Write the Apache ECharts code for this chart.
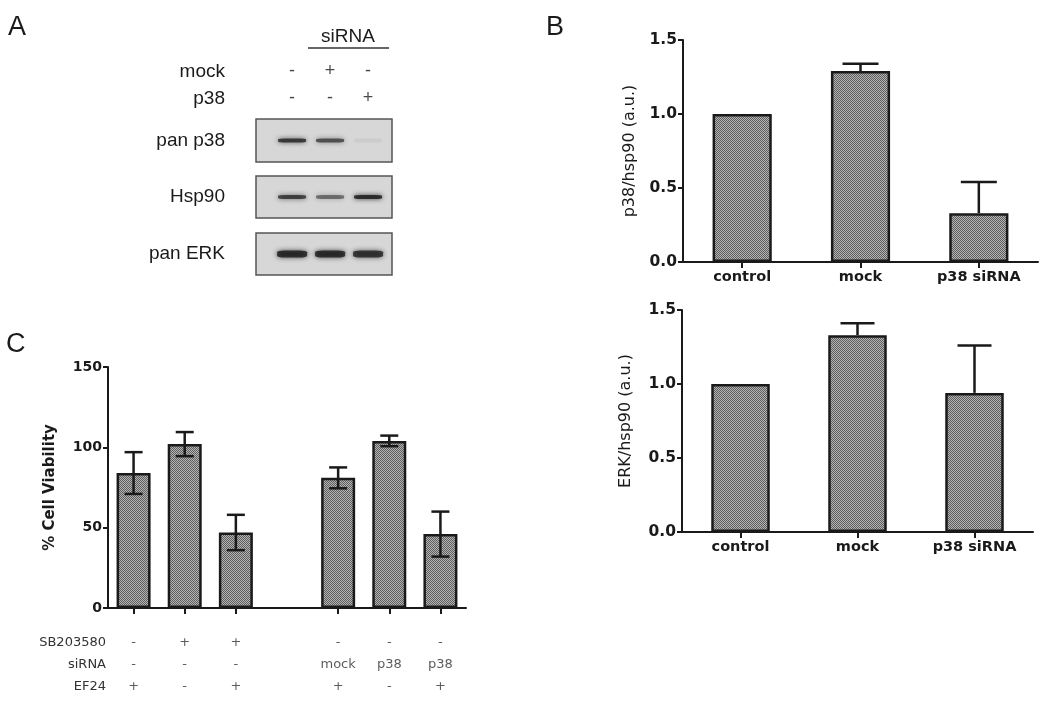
<!DOCTYPE html>
<html>
<head>
<meta charset="utf-8">
<script src="https://cdn.jsdelivr.net/npm/echarts@6/dist/echarts.min.js"></script>
<style>
  html, body { margin: 0; padding: 0; background: #fff; }
  #main { width: 1050px; height: 711px; }
</style>
</head>
<body>
<div id="main"></div>
<script>
// ---- panel A: blot ----
var lanes = [0, 1, 2];
var mockSigns = ['-', '+', '-'];
var p38Signs = ['-', '-', '+'];
var headerRows = ['mock', 'p38'];
var blotNames = ['pan p38', 'Hsp90', 'pan ERK'];
var panP38Band = [0.9, 0.75, 0.07];
var hsp90Band = [0.85, 0.6, 1.0];
var panErkBand = [0.95, 0.95, 0.9];

// ---- panel B ----
var bCats = ['control', 'mock', 'p38 siRNA'];
var p38Mean = [1.0, 1.29, 0.33];
var p38Err = [0, 0.05, 0.21];
var erkMean = [1.0, 1.33, 0.94];
var erkErr = [0, 0.08, 0.32];

// ---- panel C ----
var cCats = ['1', '2', '3', 'gap', '4', '5', '6'];
var viability = [84, 102, 47, null, 81, 104, 46];
var viabilityErr = [13, 7.5, 11, null, 6.5, 3.3, 14];
var tableRows = ['SB203580', 'siRNA', 'EF24'];
var sbRow = ['-', '+', '+', '', '-', '-', '-'];
var sirnaRow = ['-', '-', '-', '', 'mock', 'p38', 'p38'];
var ef24Row = ['+', '-', '+', '', '+', '-', '+'];

var myChart = echarts.init(document.getElementById('main'));

var ARIAL = 'Liberation Sans, Arial, sans-serif';
var DEJA = 'DejaVu Sans, sans-serif';
var INK = '#1a1a1a';

// dithered grey fill like the original hatching
var pat = document.createElement('canvas');
pat.width = 2; pat.height = 2;
var ctx = pat.getContext('2d');
ctx.fillStyle = '#b4b4b4'; ctx.fillRect(0, 0, 2, 2);
ctx.fillStyle = '#5e5e5e'; ctx.fillRect(0, 0, 1, 1); ctx.fillRect(1, 1, 1, 1);
var barFill = { image: pat, repeat: 'repeat' };

function errorBar(both, capW) {
  return function (params, api) {
    var x = api.value(0), m = api.value(1), s = api.value(2);
    if (!s) return null;
    var top = api.coord([x, m + s]);
    var bot = api.coord([x, both ? m - s : m]);
    var st = { stroke: INK, lineWidth: 2.5 };
    var kids = [
      { type: 'line', shape: { x1: top[0], y1: top[1], x2: bot[0], y2: bot[1] }, style: st },
      { type: 'line', shape: { x1: top[0] - capW / 2, y1: top[1], x2: top[0] + capW / 2, y2: top[1] }, style: st }
    ];
    if (both) {
      kids.push({ type: 'line', shape: { x1: bot[0] - capW / 2, y1: bot[1], x2: bot[0] + capW / 2, y2: bot[1] }, style: st });
    }
    return { type: 'group', children: kids };
  };
}

function bandSeries(gridIdx, name, vals, size) {
  return {
    type: 'scatter', xAxisIndex: gridIdx, yAxisIndex: gridIdx,
    symbol: 'roundRect', symbolSize: size, silent: true,
    data: lanes.map(function (l, i) {
      var c = 'rgba(20,20,20,' + vals[i] + ')';
      return { value: [l, name], itemStyle: { color: c, shadowBlur: 5, shadowColor: c } };
    })
  };
}

function blotYAxis(gridIdx, cats, inverse) {
  return {
    type: 'category', gridIndex: gridIdx, data: cats, inverse: !!inverse,
    axisLine: { show: false }, axisTick: { show: false }, splitLine: { show: false },
    axisLabel: { fontFamily: ARIAL, fontSize: 19, color: INK, margin: 31 }
  };
}
function blotXAxis(gridIdx) {
  return { type: 'value', gridIndex: gridIdx, min: -0.95, max: 2.63, show: false };
}

function valueY(gridIdx, max, interval, name, nameSize, nameBold, nameGap, labelSize, digits) {
  return {
    type: 'value', gridIndex: gridIdx, min: 0, max: max, interval: interval,
    name: name, nameLocation: 'middle', nameGap: nameGap,
    nameTextStyle: { fontFamily: DEJA, fontSize: nameSize, fontWeight: nameBold ? 'bold' : 'normal', color: INK },
    axisLine: { show: true, lineStyle: { color: INK, width: 2 } },
    axisTick: { show: true, length: 5, lineStyle: { color: INK, width: 2 } },
    splitLine: { show: false },
    axisLabel: {
      fontFamily: DEJA, fontSize: labelSize, fontWeight: 'bold', color: INK, margin: 6,
      formatter: function (v) { return v.toFixed(digits); }
    }
  };
}

function catX(gridIdx, cats, showLabel, tickFn) {
  return {
    type: 'category', gridIndex: gridIdx, data: cats,
    axisLine: { show: true, lineStyle: { color: INK, width: 2 } },
    axisTick: { show: true, alignWithLabel: true, length: 6, interval: tickFn || 0, lineStyle: { color: INK, width: 2 } },
    axisLabel: { show: showLabel, interval: 0, fontFamily: DEJA, fontSize: 14.5, fontWeight: 'bold', color: INK, margin: 8 }
  };
}

var tableData = [];
[sbRow, sirnaRow, ef24Row].forEach(function (row, r) {
  row.forEach(function (t, c) { if (t) tableData.push([c, r, t]); });
});

var headerData = [];
[mockSigns, p38Signs].forEach(function (row, r) {
  row.forEach(function (t, i) { headerData.push([lanes[i], r, t]); });
});

var blotGrid = { show: true, backgroundColor: '#d7d7d7', borderColor: '#555', borderWidth: 1.5 };

var option = {
  animation: false,
  backgroundColor: '#fff',
  grid: [
    { left: 256, top: 58, width: 136, height: 54 },
    Object.assign({ left: 256, top: 119, width: 136, height: 43 }, blotGrid),
    Object.assign({ left: 256, top: 176, width: 136, height: 42 }, blotGrid),
    Object.assign({ left: 256, top: 233, width: 136, height: 42 }, blotGrid),
    { left: 683, top: 40, width: 355, height: 222 },
    { left: 682, top: 310, width: 351, height: 222 },
    { left: 108, top: 367, width: 358, height: 241 },
    { left: 108, top: 632, width: 358, height: 66 }
  ],
  xAxis: [
    blotXAxis(0), blotXAxis(1), blotXAxis(2), blotXAxis(3),
    catX(4, bCats, true),
    catX(5, bCats, true),
    catX(6, cCats, false, function (i) { return viability[i] != null; }),
    { type: 'category', gridIndex: 7, data: cCats, show: false }
  ],
  yAxis: [
    blotYAxis(0, headerRows, true),
    blotYAxis(1, [blotNames[0]]),
    blotYAxis(2, [blotNames[1]]),
    blotYAxis(3, [blotNames[2]]),
    valueY(4, 1.5, 0.5, 'p38/hsp90 (a.u.)', 16, false, 45, 15.5, 1),
    valueY(5, 1.5, 0.5, 'ERK/hsp90 (a.u.)', 16, false, 48, 15.5, 1),
    valueY(6, 150, 50, '% Cell Viability', 15, true, 50, 14, 0),
    {
      type: 'category', gridIndex: 7, data: tableRows, inverse: true,
      axisLine: { show: false }, axisTick: { show: false },
      axisLabel: { fontFamily: DEJA, fontSize: 13, color: '#333', margin: 2 }
    }
  ],
  series: [
    {
      type: 'scatter', xAxisIndex: 0, yAxisIndex: 0, symbolSize: 1, silent: true,
      itemStyle: { color: 'rgba(0,0,0,0)' }, data: headerData,
      label: { show: true, position: 'inside', fontFamily: ARIAL, fontSize: 18, color: INK,
        formatter: function (p) { return p.value[2]; } }
    },
    bandSeries(1, blotNames[0], panP38Band, [28, 4]),
    bandSeries(2, blotNames[1], hsp90Band, [28, 4]),
    bandSeries(3, blotNames[2], panErkBand, [30, 7]),
    {
      type: 'bar', xAxisIndex: 4, yAxisIndex: 4, data: p38Mean, barWidth: '50%',
      itemStyle: { color: barFill, borderColor: INK, borderWidth: 2.5 }
    },
    {
      type: 'custom', xAxisIndex: 4, yAxisIndex: 4, z: 5,
      renderItem: errorBar(false, 36), encode: { x: 0, y: 1 },
      data: bCats.map(function (c, i) { return [i, p38Mean[i], p38Err[i]]; })
    },
    {
      type: 'bar', xAxisIndex: 5, yAxisIndex: 5, data: erkMean, barWidth: '50%',
      itemStyle: { color: barFill, borderColor: INK, borderWidth: 2.5 }
    },
    {
      type: 'custom', xAxisIndex: 5, yAxisIndex: 5, z: 5,
      renderItem: errorBar(false, 34), encode: { x: 0, y: 1 },
      data: bCats.map(function (c, i) { return [i, erkMean[i], erkErr[i]]; })
    },
    {
      type: 'bar', xAxisIndex: 6, yAxisIndex: 6, barWidth: 34,
      data: viability.map(function (v) { return v == null ? '-' : v; }),
      itemStyle: { color: barFill, borderColor: INK, borderWidth: 2.5 }
    },
    {
      type: 'custom', xAxisIndex: 6, yAxisIndex: 6, z: 5,
      renderItem: errorBar(true, 18), encode: { x: 0, y: 1 },
      data: viability.map(function (v, i) { return v == null ? [i, 0, 0] : [i, v, viabilityErr[i]]; })
    },
    {
      type: 'scatter', xAxisIndex: 7, yAxisIndex: 7, symbolSize: 1, silent: true,
      itemStyle: { color: 'rgba(0,0,0,0)' }, data: tableData,
      label: { show: true, position: 'inside', fontFamily: DEJA, fontSize: 13, color: '#333',
        formatter: function (p) { return p.value[2]; } }
    }
  ],
  graphic: [
    { type: 'text', left: 8, top: 14, style: { text: 'A', fontFamily: ARIAL, fontSize: 27, fill: INK } },
    { type: 'text', left: 546, top: 14, style: { text: 'B', fontFamily: ARIAL, fontSize: 27, fill: INK } },
    { type: 'text', left: 6, top: 331, style: { text: 'C', fontFamily: ARIAL, fontSize: 27, fill: INK } },
    { type: 'text', x: 348, y: 37, style: { text: 'siRNA', fontFamily: ARIAL, fontSize: 19, fill: INK, align: 'center', verticalAlign: 'middle' } },
    { type: 'line', shape: { x1: 308, y1: 48, x2: 389, y2: 48 }, style: { stroke: '#333', lineWidth: 1.5 } }
  ]
};

myChart.setOption(option);
</script>
</body>
</html>
